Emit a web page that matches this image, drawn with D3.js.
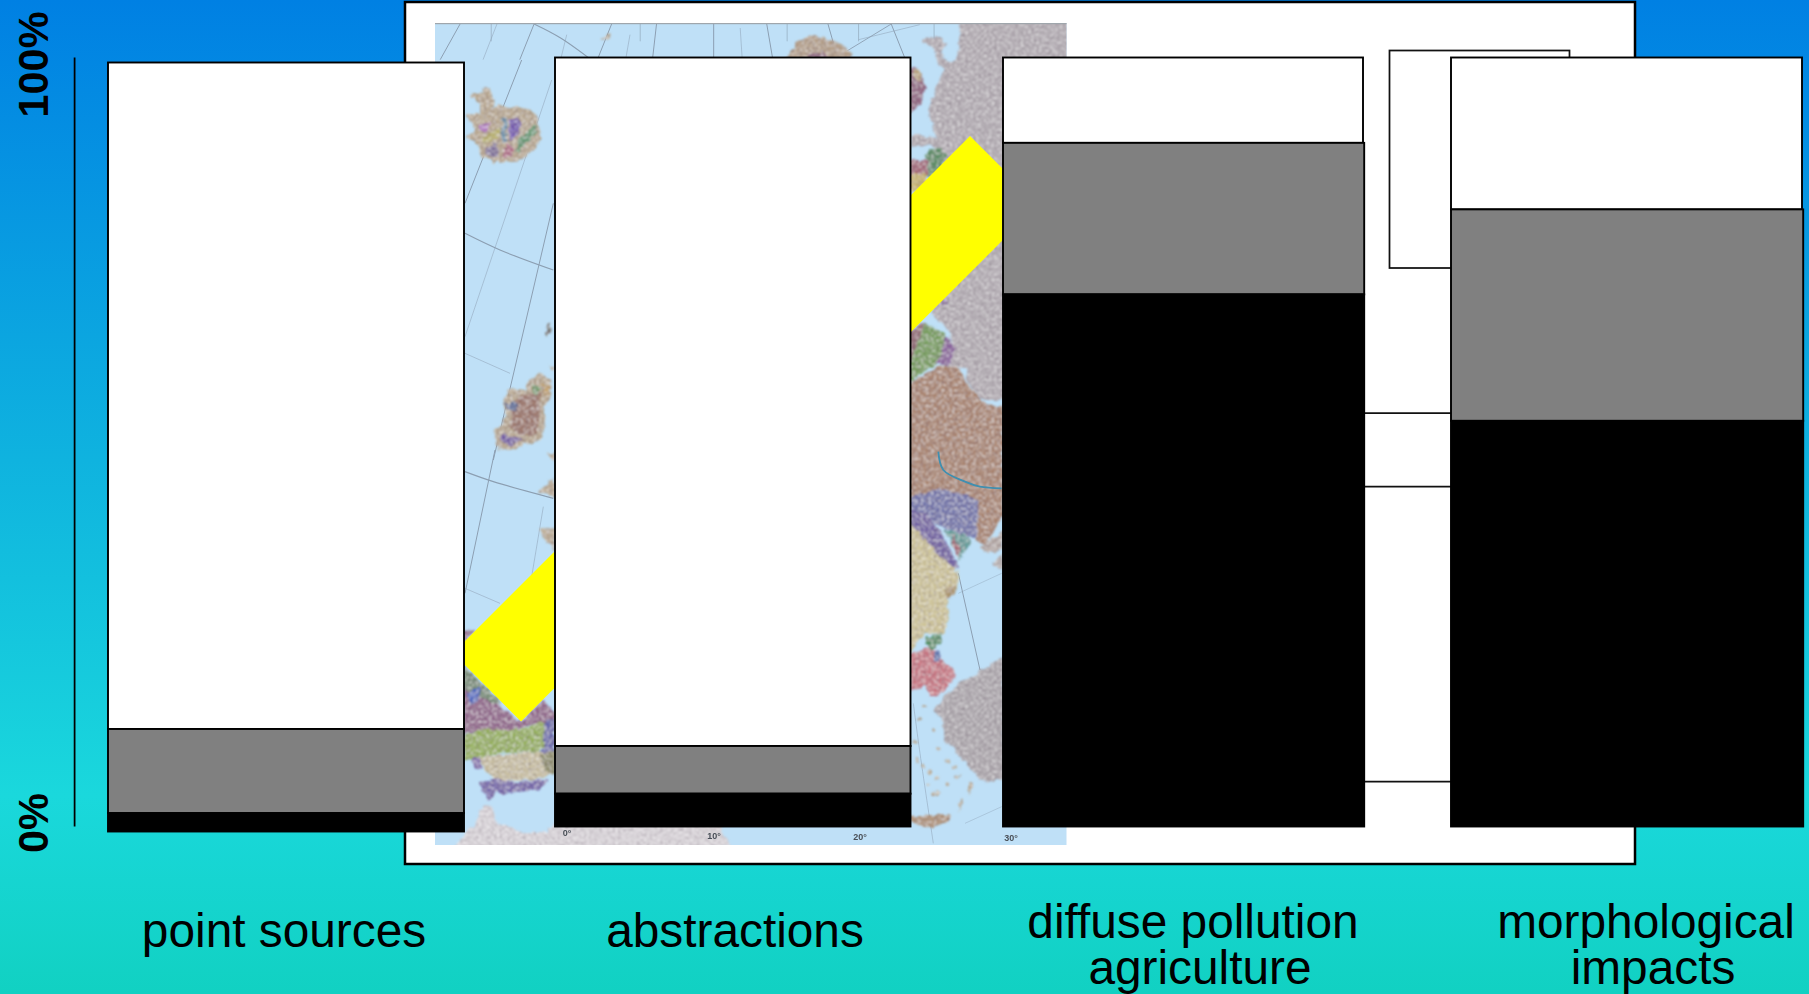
<!DOCTYPE html>
<html><head><meta charset="utf-8">
<script src="https://d3js.org/d3.v7.min.js"></script>
<style>html,body{margin:0;padding:0;overflow:hidden;background:#fff}svg{display:block}text{font-family:"Liberation Sans",Arial,sans-serif}</style>
</head><body><svg id="c" width="1809" height="994"></svg>
<script>
// ---- chart data (percent shares) ----
const categories = ["point sources", "abstractions", "diffuse pollution agriculture", "morphological impacts"];
const lower  = [2.4, 4.27, 69.2, 52.75];
const middle = [10.93, 6.2, 19.7, 27.5];
const upper  = [86.67, 89.53, 11.1, 19.75];
const tickValues = [0, 100];
const labelLines = [["point sources"], ["abstractions"], ["diffuse pollution", "agriculture"], ["morphological", "impacts"]];

// ---- layout ----
const svg = d3.select("#c"), W = 1809, H = 994;
const y = d3.scaleLinear().domain([0, 100]).range([826.5, 57.5]);
const xLeft  = d3.scaleOrdinal().domain(categories).range([108, 555, 1003, 1451]);
const xWidth = d3.scaleOrdinal().domain(categories).range([356, 355.5, 360, 351]);
const yShift = d3.scaleOrdinal().domain(categories).range([5, 0, 0, 0]);
const extra  = d3.scaleOrdinal().domain(categories).range([0, 0, 1.2, 1.2]);
const labelX = d3.scaleOrdinal().domain(categories).range([[284], [735], [1193, 1200], [1646, 1653]]);
const seriesFill = d3.scaleOrdinal().domain(["upper", "middle", "lower"]).range(["#ffffff", "#808080", "#000000"]);

const defs = svg.append("defs");
const grad = defs.append("linearGradient").attr("id", "bg").attr("x1", 0).attr("x2", 0).attr("y1", 0).attr("y2", 1);
[[0, "#0080e3"], [0.8, "#1ad8dc"], [1, "#11d1c2"]].forEach(s => grad.append("stop").attr("offset", s[0]).attr("stop-color", s[1]));
svg.append("rect").attr("width", W).attr("height", H).attr("fill", "url(#bg)");

// ---- background slide panel ----
svg.append("rect").attr("x", 405).attr("y", 2).attr("width", 1230).attr("height", 862)
  .attr("fill", "#fff").attr("stroke", "#000").attr("stroke-width", 2.5);
svg.append("rect").attr("x", 1389.5).attr("y", 50.5).attr("width", 180).attr("height", 217.5)
  .attr("fill", "#fff").attr("stroke", "#111").attr("stroke-width", 1.75);
[413, 486.5, 781.5].forEach(v => svg.append("line").attr("x1", 1360).attr("x2", 1455).attr("y1", v).attr("y2", v)
  .attr("stroke", "#111").attr("stroke-width", 1.75));

// ---- map picture (decorative backdrop) ----
const mapF = defs.append("filter").attr("id", "mottle").attr("filterUnits", "userSpaceOnUse")
  .attr("x", 430).attr("y", 18).attr("width", 645).attr("height", 835);
mapF.append("feTurbulence").attr("type", "fractalNoise").attr("baseFrequency", 0.14).attr("numOctaves", 2).attr("seed", 7).attr("result", "w");
mapF.append("feDisplacementMap").attr("in", "SourceGraphic").attr("in2", "w").attr("scale", 7).attr("xChannelSelector", "R").attr("yChannelSelector", "G").attr("result", "src");
mapF.append("feTurbulence").attr("type", "fractalNoise").attr("baseFrequency", 0.38).attr("numOctaves", 2).attr("seed", 4).attr("result", "n");
mapF.append("feColorMatrix").attr("in", "n").attr("type", "matrix")
  .attr("values", "0 0 0 0 0.2  0 0 0 0 0.15  0 0 0 0 0.2  1.5 0 0 0 -0.62").attr("result", "dk");
mapF.append("feColorMatrix").attr("in", "n").attr("type", "matrix")
  .attr("values", "0 0 0 0 1  0 0 0 0 1  0 0 0 0 1  0 1.5 0 0 -0.65").attr("result", "lt");
mapF.append("feComposite").attr("in", "dk").attr("in2", "src").attr("operator", "in").attr("result", "dk2");
mapF.append("feComposite").attr("in", "lt").attr("in2", "src").attr("operator", "in").attr("result", "lt2");
const mg = mapF.append("feMerge").attr("result", "m");
["src", "dk2", "lt2"].forEach(n => mg.append("feMergeNode").attr("in", n));
mapF.append("feGaussianBlur").attr("in", "m").attr("stdDeviation", 0.8);
const soft = defs.append("filter").attr("id", "soft");
soft.append("feGaussianBlur").attr("stdDeviation", 0.7);
defs.append("clipPath").attr("id", "mapClip").append("rect").attr("x", 435).attr("y", 23).attr("width", 631.5).attr("height", 822);

const map = svg.append("g").attr("clip-path", "url(#mapClip)");
map.append("rect").attr("x", 435).attr("y", 23).attr("width", 632).attr("height", 822).attr("fill", "#bfe0f7");

const conv = (f, pts) => pts.map(p => [f[0] + p[0] / f[2], f[1] + p[1] / f[3]]);
const A = [905, 20, 3, 3], B = [905, 420, 3, 3], C = [460, 60, 3, 3], D = [460, 450, 3, 3], E = [430, 18, 2.45, 3], R = [0, 0, 1, 1];

const gridLines = [
  [E, [[75,15],[25,125]], 1], [E, [[165,15],[130,125]], .5], [E, [[255,18],[220,125]], 1], [E, [[255,18],[320,60],[400,130]], 1.1],
  [E, [[335,50],[320,125]], .5], [E, [[445,18],[410,125]], 1], [E, [[490,50],[480,120]], .5], [E, [[555,18],[545,125]], 1],
  [E, [[695,18],[695,125]], 1], [E, [[760,30],[765,125]], .5], [E, [[825,18],[840,125]], 1], [E, [[975,18],[1000,125]], 1],
  [E, [[1130,18],[1165,125]], 1], [E, [[1130,18],[1000,115]], .9],
  [C, [[185,0],[15,430]], 1], [C, [[275,60],[15,830]], .5], [C, [[280,430],[100,1200]], 1], [C, [[15,520],[120,570],[280,630]], 1.2], [C, [[15,880],[150,940]], .5],
  [D, [[105,0],[15,430]], 1], [D, [[15,65],[100,95],[280,145]], 1.2], [D, [[250,170],[215,380]], .5], [D, [[15,415],[120,460]], .5],
  [B, [[160,460],[225,750]], 1], [B, [[160,520],[290,460]], .4], [B, [[25,850],[45,1000],[85,1270]], .5], [B, [[180,1210],[290,1160]], .4],
  [E, [[515,0],[515,70]], .6], [E, [[150,0],[150,70]], .6], [E, [[875,10],[875,70]], .6], [E, [[1050,10],[1050,70]], .6], [E, [[1235,10],[1235,70]], .6], [E, [[1050,65],[1200,20]], .5]
];
const lineGen = d3.line().curve(d3.curveCatmullRom.alpha(0.5));
const gridG = map.append("g").attr("filter", "url(#soft)").attr("fill", "none");
gridLines.forEach(g => {
  gridG.append("path").attr("d", lineGen(conv(g[0], g[1]))).attr("stroke", "#8c9fb2").attr("stroke-width", g[2]);
});

const tan = "#b9a88e", grey = "#b2acb2";
const regions = [
  // Africa
  [R, [[454,848],[475,822],[483,805],[492,806],[497,823],[510,827],[525,832],[545,832],[553,825],[560,818],[720,818],[722,830],[732,848]], "#dcd7dc"],
  // Russia
  [A, [[170,-20],[160,75],[155,120],[125,125],[105,100],[125,70],[90,48],[50,65],[85,80],[95,120],[120,150],[100,190],[70,270],[85,320],[100,360],[60,345],[18,345],[18,385],[70,375],[110,395],[140,500],[80,880],[130,930],[150,990],[130,1040],[180,1040],[190,1090],[230,1140],[290,1140],[500,1140],[500,-20]], grey],
  // Nordic & Baltic
  [A, [[10,145],[40,150],[60,200],[50,250],[10,280]], "#8f5f7e"],
  [A, [[25,150],[40,150],[50,180],[30,175]], "#bca578"],
  [A, [[65,395],[105,380],[125,410],[90,470],[65,470]], "#4f8a5c"],
  [A, [[10,425],[70,420],[70,465],[10,475]], "#a35f72"],
  [A, [[10,470],[60,460],[65,485],[10,525]], "#c8b25e"],
  [A, [[105,835],[130,842],[110,858]], "#80609a"],
  [A, [[10,935],[65,905],[70,1000],[10,1045]], "#8c5b68"],
  [A, [[60,910],[125,945],[100,1030],[60,1050],[10,1095],[10,1040]], "#6f9c50"],
  [A, [[125,945],[155,985],[130,1040],[95,1030]], "#85589a"],
  [A, [[10,1095],[60,1060],[100,1040],[160,1040],[190,1095],[235,1150],[295,1160],[295,1205],[10,1205]], "#a98169"],
  // Ukraine / Black Sea shore
  [B, [[10,-5],[295,-5],[295,280],[270,330],[240,375],[215,360],[220,240],[120,210],[10,230]], "#a98169"],
  [B, [[10,230],[120,205],[220,240],[215,350],[185,350],[120,320],[60,300],[10,305]], "#6c70aa"],
  [B, [[10,265],[60,280],[110,340],[165,440],[145,450],[80,390],[10,315]], "#6a58a2"],
  [B, [[115,325],[180,340],[200,370],[165,420],[140,370]], "#589c98"],
  [B, [[140,345],[165,385],[160,415],[145,380]], "#a8606e"],
  [B, [[10,305],[70,370],[160,460],[155,510],[125,520],[130,590],[115,640],[60,640],[10,705]], "#cfc596"],
  [B, [[115,510],[155,490],[150,525],[125,540]], "#a88f60"],
  [B, [[60,650],[110,640],[110,670],[80,690],[60,670]], "#3e8a54"],
  [B, [[10,705],[80,680],[120,730],[155,760],[110,820],[80,830],[60,800],[10,815]], "#c9717e"],
  [B, [[85,695],[105,700],[105,725],[85,720]], "#4a70b2"],
  [B, [[85,870],[130,820],[180,780],[220,755],[295,710],[295,1080],[230,1085],[170,1010],[120,960],[110,890]], "#aba6ab"],
  [B, [[225,380],[295,335],[295,385],[250,400]], "#b5a9a4"],
  [B, [[255,440],[295,395],[295,445]], "#b5aeae"],
  [B, [[10,1190],[135,1183],[130,1205],[80,1222],[10,1207]], "#ae8f72"],
  [B, [[190,1085],[208,1095],[190,1125]], tan], [B, [[165,1135],[175,1140],[160,1175]], tan],
  // Iceland
  [C, [[30,105],[60,100],[65,85],[85,80],[100,110],[100,145],[125,130],[135,145],[170,140],[210,150],[235,170],[230,200],[245,230],[220,275],[190,295],[140,305],[100,310],[70,290],[50,250],[20,235],[45,205],[20,165],[60,160],[60,130]], tan],
  [C, [[55,195],[90,190],[85,215],[60,215]], "#b070c2"],
  [C, [[60,240],[120,200],[125,220],[70,255]], "#b8b060"],
  [C, [[145,185],[180,170],[180,220],[150,245]], "#7050b2"],
  [C, [[180,230],[225,195],[230,215],[170,280]], "#5f9a70"],
  [C, [[125,170],[140,170],[140,240],[125,250]], "#5f8fae"],
  [C, [[140,250],[165,270],[150,295],[130,290]], "#b06080"],
  [C, [[75,265],[110,250],[115,290],[85,290]], "#7a6a9a"],
  // Ireland
  [C, [[200,965],[240,940],[270,960],[275,1010],[250,1040],[255,1090],[245,1140],[190,1155],[150,1170],[110,1160],[100,1115],[130,1090],[135,1060],[130,1020],[150,985],[200,990]], tan],
  [C, [[170,1010],[240,1000],[235,1120],[180,1130],[150,1100]], "#9a7060"],
  [C, [[135,1030],[170,1030],[170,1050],[140,1050]], "#556a9a"],
  [C, [[125,1120],[185,1140],[150,1155],[120,1140]], "#6a50a2"],
  [C, [[245,970],[270,980],[265,1005],[250,1000]], "#c09a50"],
  [C, [[215,970],[240,985],[225,1010]], "#6a9a60"],
  [C, [[270,790],[255,835],[272,815]], "#5f5545"],
  [C, [[268,915],[285,925],[278,935]], tan],
  // Scotland & Wales coast bits
  [D, [[230,125],[270,100],[285,80],[285,140]], tan],
  [D, [[240,235],[285,235],[285,300],[250,265]], tan],
  [D, [[262,15],[285,8],[285,32]], tan],
  [D, [[110,-5],[150,-5],[130,3]], tan],
  // France / Spain strip
  [D, [[10,540],[45,538],[10,575]], "#8f5f88"],
  [D, [[10,645],[120,755],[90,775],[10,715]], "#6f8a70"],
  [D, [[10,710],[60,740],[110,760],[185,815],[250,750],[285,790],[285,810],[250,818],[200,832],[130,842],[60,838],[10,855]], "#8f5f88"],
  [D, [[20,725],[60,715],[55,750],[25,760]], "#3a60c2"],
  [D, [[255,810],[285,805],[285,905],[245,915]], "#5f60aa"],
  [D, [[10,860],[60,836],[130,840],[200,835],[255,815],[250,890],[240,905],[130,910],[70,920],[30,930],[10,920]], "#93b050"],
  [D, [[65,920],[240,905],[285,910],[285,970],[220,992],[110,992],[70,960]], "#c9bfa0"],
  [D, [[240,915],[285,905],[285,975],[250,960]], "#8a8a60"],
  [D, [[35,925],[65,920],[65,955],[45,960]], "#7a60aa"],
  [D, [[60,1000],[110,985],[170,1000],[265,990],[240,1020],[180,1025],[110,1030],[90,1050],[70,1030]], "#7060aa"],
  // Northern isles and Norway top
  [E, [[870,130],[900,70],[945,50],[1000,75],[1040,110],[1012,130]], "#b39d84"],
  [E, [[925,110],[960,100],[980,130],[930,130]], "#8a5a78"],
  [E, [[420,60],[442,48],[442,56],[425,66]], tan]
];
const closed = d3.line().curve(d3.curveLinearClosed);
const land = map.append("g").attr("filter", "url(#mottle)");
regions.forEach(r => land.append("path").attr("d", closed(conv(r[0], r[1]))).attr("fill", r[2]));
// Aegean islands
const islands = [[85,930],[60,860],[45,895],[30,965],[100,985],[35,1020],[55,1040],[75,1055],[95,1075],[70,1095],[125,1095],[85,1120],[100,1120],[155,1070],[130,1025],[150,1040]];
land.selectAll(null).data(conv(B, islands)).join("circle")
  .attr("cx", d => d[0]).attr("cy", d => d[1]).attr("r", 2).attr("fill", tan);
// Rivers on the Ukraine plain
map.append("path").attr("d", lineGen(conv(B, [[100,95],[115,150],[180,185],[225,200],[290,205]])))
  .attr("fill", "none").attr("stroke", "#3f8fb0").attr("stroke-width", 1.8).attr("filter", "url(#soft)");
map.append("rect").attr("x", 435).attr("y", 23).attr("width", 632).attr("height", 1.2).attr("fill", "#9fa6ac");
// Coordinate marks in the lower margin of the map
const mapMarks = ["0°", "10°", "20°", "30°"];
const markX = d3.scaleOrdinal().domain(mapMarks).range([567, 714, 860, 1011]);
const markY = d3.scaleOrdinal().domain(mapMarks).range([836, 839, 840, 841]);
map.selectAll("text.m").data(mapMarks).join("text").attr("class", "m")
  .attr("x", d => markX(d)).attr("y", d => markY(d)).attr("text-anchor", "middle")
  .attr("font-size", 9).attr("font-weight", "bold").attr("fill", "#4a5058").attr("filter", "url(#soft)").text(d => d);

// ---- yellow band ----
svg.append("path").attr("d", closed([[970, 136], [1038.5, 204.5], [521, 721.5], [453, 653]])).attr("fill", "#ffff00");

// ---- axis ----
const axisG = svg.append("g").attr("transform", "translate(74.6,0)")
  .call(d3.axisLeft(y).tickValues(tickValues).tickSize(0).tickPadding(0).tickFormat(d => d + "%"));
axisG.select(".domain").attr("stroke", "#000").attr("stroke-width", 1.75).attr("d", `M0,${y(100)}V${y(0)}`);
const tickOffset = d3.scaleOrdinal().domain(tickValues).range([-4, 6.5]);
axisG.selectAll(".tick text")
  .attr("x", null).attr("dy", null).attr("text-anchor", "middle")
  .attr("transform", d => `translate(-26.5,${tickOffset(d)}) rotate(-90) scale(1.01,1.06)`)
  .attr("font-family", '"Liberation Sans",Arial,sans-serif').attr("font-size", 41).attr("font-weight", "bold").attr("fill", "#000");

// ---- stacked bars ----
const rows = categories.map((c, i) => ({ category: c, lower: lower[i], middle: middle[i], upper: upper[i] }));
const stacked = d3.stack().keys(["lower", "middle", "upper"])(rows);
const drawOrder = ["upper", "middle", "lower"];
const barsG = svg.append("g");
rows.forEach((r, i) => {
  const g = barsG.append("g").attr("class", "bar");
  drawOrder.forEach(k => {
    const seg = stacked.find(s => s.key === k)[i];
    g.append("rect")
      .attr("x", xLeft(r.category)).attr("width", xWidth(r.category) + (k === "upper" ? 0 : extra(r.category)))
      .attr("y", y(seg[1]) + yShift(r.category))
      .attr("height", y(seg[0]) - y(seg[1]))
      .attr("fill", seriesFill(k)).attr("stroke", "#000").attr("stroke-width", 1.9);
  });
});

// ---- category labels ----
const lblBase = [[947], [947], [938, 983.5], [938, 983.5]];
categories.forEach((c, i) => {
  const t = svg.append("text").attr("text-anchor", "middle").attr("font-size", 47.8).attr("fill", "#000");
  labelLines[i].forEach((line, j) => {
    t.append("tspan").attr("x", labelX(c)[j]).attr("y", lblBase[i][j]).text(line);
  });
});
</script></body></html>
